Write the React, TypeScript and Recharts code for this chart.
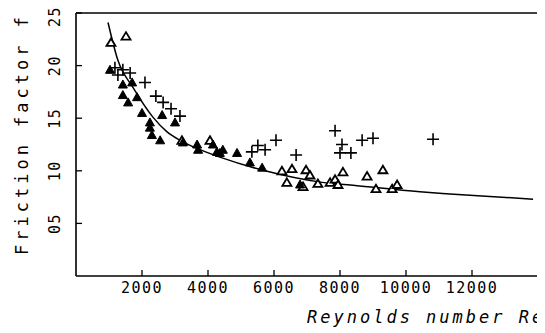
import React from 'react';
import { ComposedChart, Scatter, Line, XAxis, YAxis } from 'recharts';

// fitted curve
const fitRe = [970, 1270, 1730, 2330, 2760, 3150, 3610, 4360, 5730, 7460, 8460, 10420, 11330, 13850];
const fitF = [0.241, 0.205, 0.179, 0.151, 0.137, 0.129, 0.122, 0.113, 0.1, 0.089, 0.086, 0.08, 0.078, 0.073];

// open triangles
const openRe = [1060, 1515, 3210, 4060, 6240, 6545, 6390, 6880, 6970, 7090, 7330, 7700, 7850, 7940, 8090, 8820, 9300, 9090, 9580, 9730];
const openF = [0.222, 0.228, 0.129, 0.129, 0.1, 0.102, 0.089, 0.085, 0.101, 0.096, 0.088, 0.089, 0.092, 0.087, 0.099, 0.095, 0.101, 0.083, 0.083, 0.087];

// filled triangles
const fillRe = [1030, 1420, 1700, 1420, 1580, 1850, 2000, 2240, 2240, 2300, 2550, 2610, 3000, 3240, 3670, 3700, 4150, 4270, 4360, 4450, 4880, 5270, 5640, 6790];
const fillF = [0.196, 0.182, 0.184, 0.172, 0.165, 0.17, 0.155, 0.146, 0.141, 0.134, 0.129, 0.153, 0.146, 0.127, 0.125, 0.12, 0.125, 0.118, 0.117, 0.12, 0.117, 0.108, 0.103, 0.087];

// crosses
const crossRe = [1180, 1420, 1270, 1640, 2090, 2420, 2640, 2880, 3150, 5330, 5510, 5730, 6060, 6670, 7850, 8060, 8000, 8330, 8670, 9000, 10820];
const crossF = [0.198, 0.196, 0.191, 0.193, 0.184, 0.171, 0.165, 0.159, 0.152, 0.118, 0.124, 0.12, 0.129, 0.115, 0.138, 0.125, 0.117, 0.117, 0.129, 0.131, 0.13];

const xTicks = [2000, 4000, 6000, 8000, 10000, 12000];
const yTicks = [0.05, 0.1, 0.15, 0.2, 0.25];

const toPts = (xs: number[], ys: number[]) => xs.map((re, i) => ({ re, f: ys[i] }));

const fitData = toPts(fitRe, fitF);
const openData = toPts(openRe, openF);
const fillData = toPts(fillRe, fillF);
const crossData = toPts(crossRe, crossF);

const FONT = '"DejaVu Sans Mono", monospace';
const AX = { stroke: '#000', strokeWidth: 1.6 };
const TL = { stroke: '#000', strokeWidth: 1.3 };

const OpenTri = (p: any) => (
  <path d={`M${p.cx},${p.cy - 4} L${p.cx + 4.5},${p.cy + 3.5} L${p.cx - 4.5},${p.cy + 3.5} Z`} fill="#fff" stroke="#000" strokeWidth={1.8} />
);
const FillTri = (p: any) => (
  <path d={`M${p.cx},${p.cy - 4.5} L${p.cx + 4.5},${p.cy + 3.5} L${p.cx - 4.5},${p.cy + 3.5} Z`} fill="#000" stroke="#000" strokeWidth={1} />
);
const Cross = (p: any) => (
  <path d={`M${p.cx - 6},${p.cy} H${p.cx + 6} M${p.cx},${p.cy - 6} V${p.cy + 6}`} stroke="#000" strokeWidth={1.6} />
);

const fmtY = (v: number) => String(Math.round(v * 100)).padStart(2, '0');

const XTitle = () => (
  <text x={299} y={315} fontFamily={FONT} fontStyle="italic" fontSize={17} letterSpacing={3} fill="#000">
    Reynolds number Re
  </text>
);
const YTitle = () => (
  <g transform="translate(14, 126) rotate(-90)">
    <text x={0} y={0} textAnchor="middle" dominantBaseline="central" fontFamily={FONT} fontSize={17} letterSpacing={4} fill="#000">
      Friction factor f
    </text>
  </g>
);

export default function App() {
  return (
    <ComposedChart width={537} height={325} margin={{ top: 4, right: 6, left: 0, bottom: 0 }}>
      <XAxis type="number" dataKey="re" domain={[0, 14000]} ticks={xTicks} height={57}
        tickSize={-6} tickMargin={12} tickLine={TL} axisLine={AX}
        tick={{ fontFamily: FONT, fontSize: 15, letterSpacing: 1.5, fill: '#000' }} label={<XTitle />} />
      <XAxis xAxisId="top" orientation="top" type="number" dataKey="re" domain={[0, 14000]} ticks={xTicks} height={1}
        tick={false} tickLine={false} axisLine={AX} />
      <YAxis type="number" dataKey="f" domain={[0, 0.25]} ticks={yTicks} width={68} angle={-90}
        tickSize={-6} tickMargin={27} tickLine={TL} axisLine={AX} tickFormatter={fmtY}
        tick={{ textAnchor: 'middle', verticalAnchor: 'middle', fontFamily: FONT, fontSize: 15, letterSpacing: 1.5, fill: '#000' }}
        label={<YTitle />} />
      <YAxis yAxisId="right" orientation="right" type="number" domain={[0, 0.25]} ticks={yTicks} width={1}
        tick={false} tickLine={false} axisLine={AX} />
      <Line data={fitData} dataKey="f" type="monotone" stroke="#000" strokeWidth={1.5} dot={false} isAnimationActive={false} />
      <Scatter data={openData} shape={OpenTri} isAnimationActive={false} />
      <Scatter data={fillData} shape={FillTri} isAnimationActive={false} />
      <Scatter data={crossData} shape={Cross} isAnimationActive={false} />
    </ComposedChart>
  );
}
